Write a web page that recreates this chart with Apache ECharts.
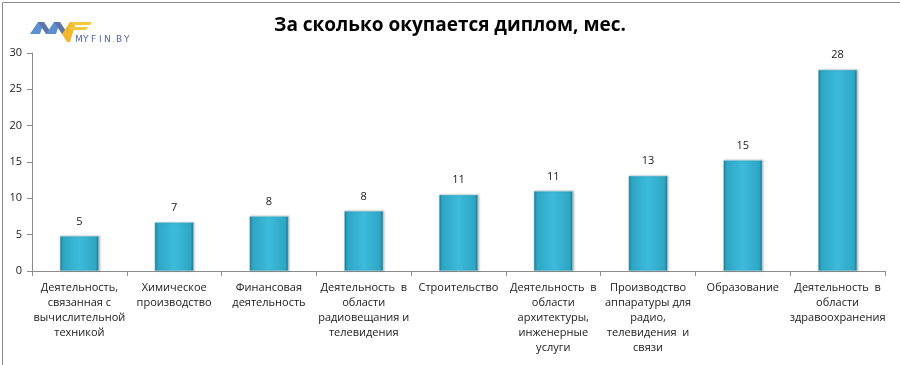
<!DOCTYPE html>
<html><head><meta charset="utf-8">
<script src="https://cdn.jsdelivr.net/npm/echarts@6/dist/echarts.min.js"></script>
<style>html,body{margin:0;padding:0;background:#fff}#c{width:900px;height:365px}</style>
</head><body><div id="c"></div>
<script>
const titleText = 'За сколько окупается диплом, мес.';
const categories = [
  'Деятельность,\nсвязанная с\nвычислительной\nтехникой',
  'Химическое\nпроизводство',
  'Финансовая\nдеятельность',
  'Деятельность  в\nобласти\nрадиовещания и\nтелевидения',
  'Строительство',
  'Деятельность  в\nобласти\nархитектуры,\nинженерные\nуслуги',
  'Производство\nаппаратуры для\nрадио,\nтелевидения  и\nсвязи',
  'Образование',
  'Деятельность  в\nобласти\nздравоохранения'
];
const values = [4.8, 6.7, 7.55, 8.25, 10.5, 11.0, 13.1, 15.25, 27.7];
const valueLabels = ['5', '7', '8', '8', '11', '11', '13', '15', '28'];
const yTicks = [0, 5, 10, 15, 20, 25, 30];
const logoLetters = ['M', 'Y', 'F', 'I', 'N', '.', 'B', 'Y'];

const chart = echarts.init(document.getElementById('c'), null, {renderer: 'canvas'});
const font = '"Open Sans", "Noto Sans", sans-serif';
const logoChildren = [
  {type: 'polygon', shape: {points: [[0,12],[8,0],[14,0],[10,12]]}, style: {fill: '#5b8fd0'}},
  {type: 'polygon', shape: {points: [[8,0],[14,0],[22,12],[16,12]]}, style: {fill: '#5f75a8'}},
  {type: 'polygon', shape: {points: [[16,12],[24,0],[30,0],[26,12]]}, style: {fill: '#5b8fd0'}},
  {type: 'polygon', shape: {points: [[24,0],[30,0],[38,12],[32,12]]}, style: {fill: '#5f75a8'}},
  {type: 'polygon', shape: {points: [[32,12],[40,0],[46,0],[40,20],[37,20]]}, style: {fill: '#f0b82c'}},
  {type: 'polygon', shape: {points: [[42,0],[62,0],[60,3],[41,3]]}, style: {fill: '#f5c842'}},
  {type: 'polygon', shape: {points: [[41,5],[58,5],[56,8],[40,8]]}, style: {fill: '#f5c842'}}
];
let lx = 45;
logoLetters.forEach(ch => {
  logoChildren.push({type: 'text', x: lx, y: 13, style: {text: ch, fill: ch === '.' ? '#f0a020' : '#5068a8', font: '9px "DejaVu Sans"'}});
  lx += ch === '.' ? 4 : (ch === 'I' ? 5 : 8);
});
chart.setOption({
  animation: false,
  backgroundColor: '#fff',
  title: {
    text: titleText, left: 'center', top: 11,
    textStyle: {fontFamily: font, fontSize: 19, fontWeight: 'bold', color: '#000'}
  },
  grid: {left: 32, right: 15, top: 53, bottom: 94, containLabel: false},
  xAxis: {
    type: 'category', data: categories,
    axisLine: {lineStyle: {color: '#8c8c8c', width: 1}},
    axisTick: {show: true, alignWithLabel: false, length: 5, lineStyle: {color: '#8c8c8c'}},
    axisLabel: {interval: 0, color: '#1a1a1a', fontFamily: font, fontSize: 11, lineHeight: 15, margin: 9}
  },
  yAxis: {
    type: 'value', min: yTicks[0], max: yTicks[yTicks.length - 1], interval: 5,
    axisLine: {show: true, lineStyle: {color: '#8c8c8c'}},
    axisTick: {show: true, length: 5, lineStyle: {color: '#8c8c8c'}},
    splitLine: {show: false},
    axisLabel: {color: '#1a1a1a', fontFamily: font, fontSize: 11, margin: 10}
  },
  series: [{
    type: 'bar', data: values, barWidth: 39,
    itemStyle: {
      color: new echarts.graphic.LinearGradient(0, 0, 1, 0, [
        {offset: 0, color: '#1f7d96'},
        {offset: 0.08, color: '#2ea6c4'},
        {offset: 0.5, color: '#3dbbdb'},
        {offset: 0.92, color: '#2ea6c4'},
        {offset: 1, color: '#1b6f86'}
      ]),
      borderColor: '#9fd6e6', borderWidth: 0.5,
      shadowColor: 'rgba(0,0,0,0.25)', shadowBlur: 2, shadowOffsetX: 1
    },
    label: {
      show: true, position: 'top', distance: 9,
      formatter: p => valueLabels[p.dataIndex],
      color: '#1a1a1a', fontFamily: font, fontSize: 11
    }
  }],
  graphic: [
    {type: 'rect', left: 0, top: 0, shape: {x: 0.5, y: 0.5, width: 898, height: 363},
     style: {fill: 'none', stroke: '#8a8a8a', lineWidth: 1}, silent: true},
    {type: 'group', left: 30, top: 22, children: logoChildren}
  ]
});
</script></body></html>
